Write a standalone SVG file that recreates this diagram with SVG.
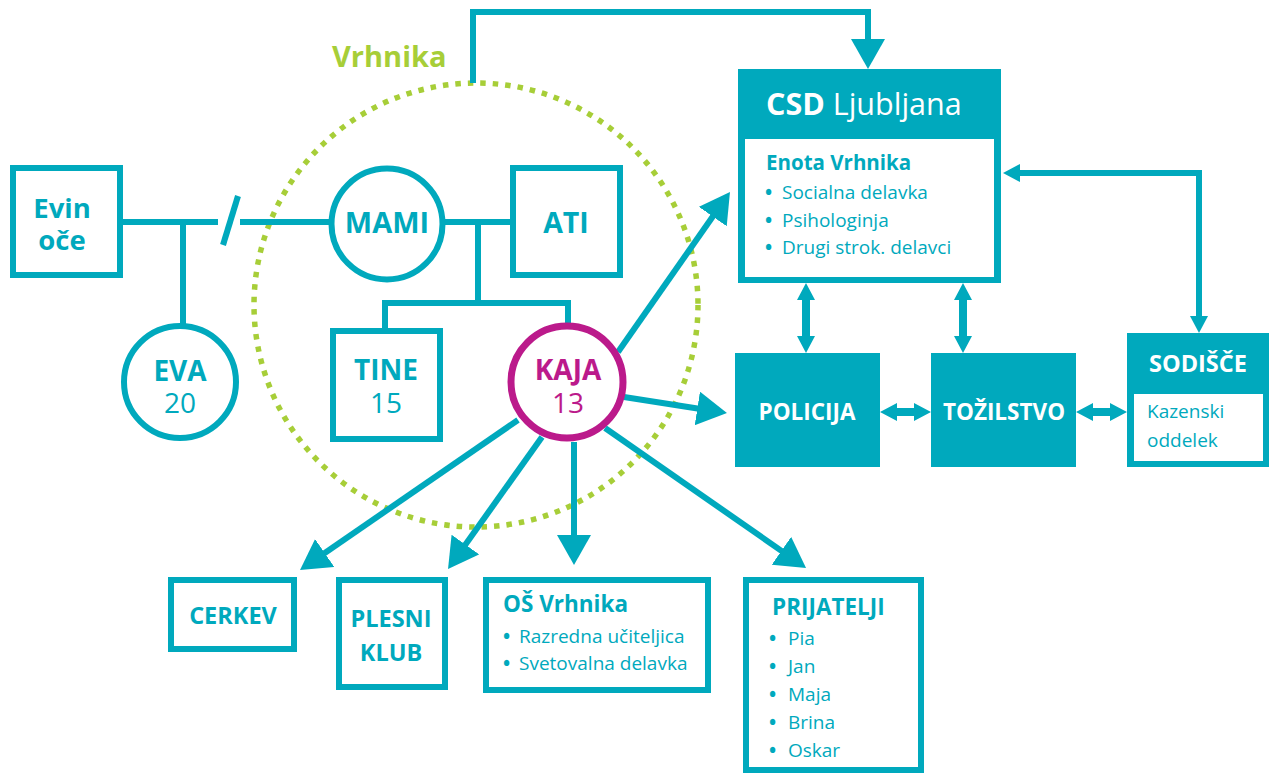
<svg xmlns="http://www.w3.org/2000/svg" width="1272" height="774" viewBox="0 0 1272 774">
<style>
text{font-family:"Open Sans","Noto Sans","Liberation Sans",sans-serif}
.ln{fill:none;stroke:#00A9BD;stroke-width:6}
.bx{fill:#fff;stroke:#00A9BD;stroke-width:6}
.fl{fill:#00A9BD}
.wt{fill:#fff}
.tb{fill:#00A9BD;font-weight:700}
.tr{fill:#00A9BD;font-weight:400}
.wb{fill:#fff;font-weight:700}
.mg{fill:#BB1A8B}
.c{text-anchor:middle}
.bu{font-weight:700}
.arr{fill:none;stroke:#00A9BD;stroke-width:6;marker-end:url(#ah)}
</style>
<defs>
<marker id="ah" markerUnits="userSpaceOnUse" markerWidth="40" markerHeight="40" refX="18" refY="17" orient="auto"><path d="M0,0 L30,17 L0,34 z" fill="#00A9BD"/></marker>
<marker id="as" markerUnits="userSpaceOnUse" markerWidth="24" markerHeight="24" refX="11" refY="9" orient="auto-start-reverse"><path d="M0,0 L17,9 L0,18 z" fill="#00A9BD"/></marker>
</defs>

<g id="vrhnika">
<circle cx="476" cy="305" r="222" fill="none" stroke="#A7CE38" stroke-width="5.5" stroke-dasharray="5.5 7"/>
<text x="332" y="67" font-size="29" font-weight="700" fill="#A7CE38">Vrhnika</text>
</g>

<g id="family-lines">
<path class="ln" d="M123,222 H218 M240,222 H332"/>
<path class="ln" d="M223,245 L238,196"/>
<path class="ln" d="M183,222 V326"/>
<path class="ln" d="M442,222 H513"/>
<path class="ln" d="M478,222 V303"/>
<path class="ln" d="M385,331 V303 H568 V326"/>
</g>

<g id="connectors">
<path class="arr" d="M473,83 V12 H868 V57"/>
<path class="arr" d="M618,352 L723.1,201.8"/>
<path class="arr" d="M624,397 L715.1,411.2"/>
<path class="arr" d="M518,420 L309.9,563.2"/>
<path class="arr" d="M542,437 L455,559.2"/>
<path class="arr" d="M574,442 V553"/>
<path class="arr" d="M605,428 L796.2,561.1"/>
<path d="M1009,173 H1199 V327" fill="none" stroke="#00A9BD" stroke-width="6" marker-start="url(#as)" marker-end="url(#as)"/>
<polygon class="fl" points="806,283 815,300 810,300 810,336 815,336 806,353 797,336 802,336 802,300 797,300"/>
<polygon class="fl" points="963,283 972,300 967,300 967,336 972,336 963,353 954,336 959,336 959,300 954,300"/>
<polygon class="fl" points="880,412 897,403 897,408 914,408 914,403 931,412 914,421 914,416 897,416 897,421"/>
<polygon class="fl" points="1076,412 1093,403 1093,408 1110,408 1110,403 1127,412 1110,421 1110,416 1093,416 1093,421"/>
</g>

<g id="evin-oce">
<rect class="bx" x="13" y="168" width="107" height="107"/>
<text class="tb c" x="62" y="218" font-size="27.5">Evin</text>
<text class="tb c" x="62" y="250" font-size="27.5">oče</text>
</g>

<g id="eva">
<circle class="bx" cx="180" cy="382" r="56"/>
<text class="tb c" x="180" y="381" font-size="28">EVA</text>
<text class="tr c" x="180" y="413" font-size="28">20</text>
</g>

<g id="mami">
<circle class="bx" cx="387" cy="224" r="55.5"/>
<text class="tb c" x="387" y="233" font-size="29">MAMI</text>
</g>

<g id="ati">
<rect class="bx" x="513" y="168" width="107" height="107"/>
<text class="tb c" x="566" y="233" font-size="28.5">ATI</text>
</g>

<g id="tine">
<rect class="bx" x="333" y="331" width="107" height="108"/>
<text class="tb c" x="386" y="380" font-size="28">TINE</text>
<text class="tr c" x="386" y="413" font-size="28">15</text>
</g>

<g id="kaja">
<circle cx="567" cy="382" r="56" fill="#fff" stroke="#BB1A8B" stroke-width="7"/>
<text class="mg c" x="568" y="380" font-size="28" font-weight="700">KAJA</text>
<text class="mg c" x="568" y="413" font-size="28">13</text>
</g>

<g id="csd">
<rect class="fl" x="738" y="69" width="263" height="214"/>
<rect class="wt" x="745" y="139" width="249" height="138"/>
<text x="766" y="115" font-size="30.5" fill="#fff"><tspan font-weight="700">CSD</tspan> Ljubljana</text>
<text class="tb" x="766" y="170" font-size="20.5">Enota Vrhnika</text>
<text class="tr" y="199" font-size="19"><tspan class="bu" x="765">•</tspan><tspan x="782">Socialna delavka</tspan></text>
<text class="tr" y="227" font-size="19"><tspan class="bu" x="765">•</tspan><tspan x="782">Psihologinja</tspan></text>
<text class="tr" y="254" font-size="19"><tspan class="bu" x="765">•</tspan><tspan x="782">Drugi strok. delavci</tspan></text>
</g>

<g id="policija">
<rect class="fl" x="735" y="353" width="145" height="114"/>
<text class="wb c" x="807" y="420" font-size="22.5">POLICIJA</text>
</g>

<g id="tozilstvo">
<rect class="fl" x="931" y="353" width="145" height="114"/>
<text class="wb c" x="1004" y="420" font-size="22.5">TOŽILSTVO</text>
</g>

<g id="sodisce">
<rect class="fl" x="1127" y="333" width="142" height="134"/>
<rect class="wt" x="1134" y="394" width="129" height="67"/>
<text class="wb c" x="1198" y="372" font-size="23.5">SODIŠČE</text>
<text class="tr" x="1147" y="418" font-size="19">Kazenski</text>
<text class="tr" x="1147" y="447" font-size="19">oddelek</text>
</g>

<g id="cerkev">
<rect class="bx" x="171" y="580" width="123" height="69"/>
<text class="tb c" x="233" y="624" font-size="23.5">CERKEV</text>
</g>

<g id="plesni-klub">
<rect class="bx" x="339" y="580" width="106" height="107"/>
<text class="tb c" x="391" y="627" font-size="23.5">PLESNI</text>
<text class="tb c" x="391" y="661" font-size="23.5">KLUB</text>
</g>

<g id="os-vrhnika">
<rect class="bx" x="486" y="580" width="222" height="110"/>
<text class="tb" x="503" y="612" font-size="22.5">OŠ Vrhnika</text>
<text class="tr" y="643" font-size="19"><tspan class="bu" x="503">•</tspan><tspan x="519">Razredna učiteljica</tspan></text>
<text class="tr" y="670" font-size="19"><tspan class="bu" x="503">•</tspan><tspan x="519">Svetovalna delavka</tspan></text>
</g>

<g id="prijatelji">
<rect class="bx" x="746" y="580" width="175" height="190"/>
<text class="tb" x="772" y="615" font-size="22.5">PRIJATELJI</text>
<text class="tr" y="645" font-size="19"><tspan class="bu" x="769">•</tspan><tspan x="788">Pia</tspan></text>
<text class="tr" y="673" font-size="19"><tspan class="bu" x="769">•</tspan><tspan x="788">Jan</tspan></text>
<text class="tr" y="701" font-size="19"><tspan class="bu" x="769">•</tspan><tspan x="788">Maja</tspan></text>
<text class="tr" y="729" font-size="19"><tspan class="bu" x="769">•</tspan><tspan x="788">Brina</tspan></text>
<text class="tr" y="757" font-size="19"><tspan class="bu" x="769">•</tspan><tspan x="788">Oskar</tspan></text>
</g>
</svg>
